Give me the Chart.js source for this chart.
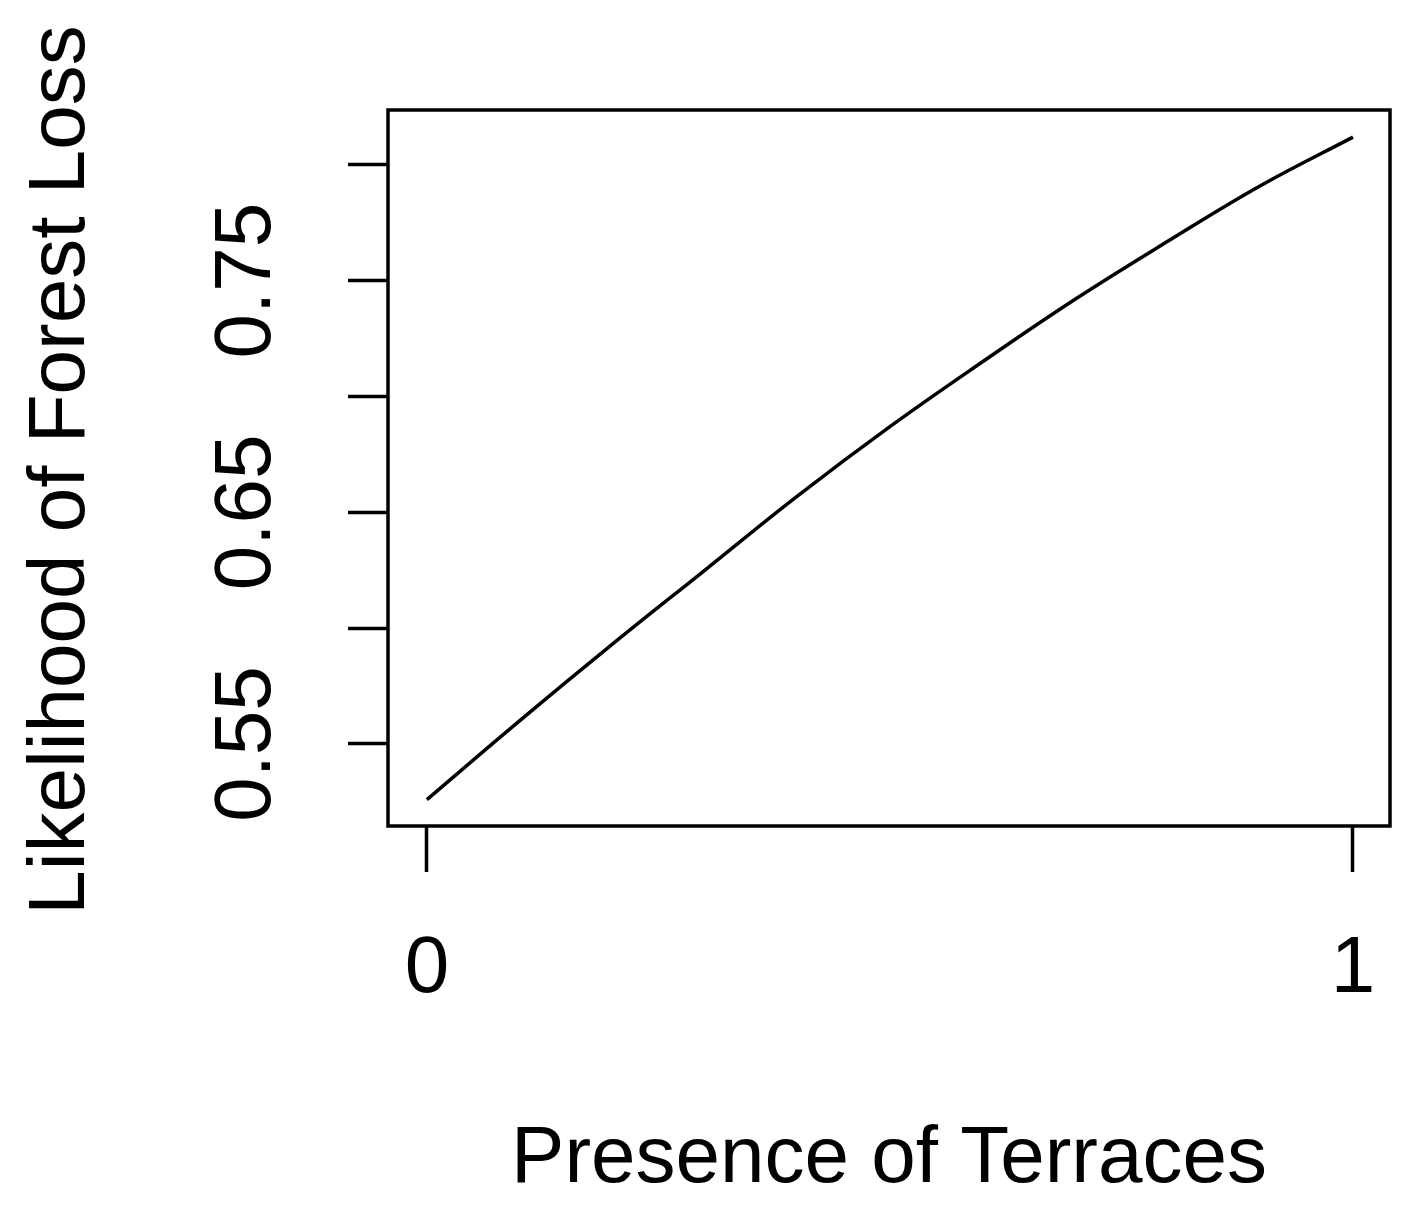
<!DOCTYPE html>
<html>
<head>
<meta charset="utf-8">
<script src="https://cdn.jsdelivr.net/npm/chart.js@4"></script>
<style>
  html, body { margin: 0; padding: 0; background: #fff; }
  #wrap { width: 1421px; height: 1229px; }
</style>
</head>
<body>
<div id="wrap"><canvas id="plot"></canvas></div>
<script>
// data
var terraces = [0, 0.1, 0.2, 0.3, 0.4, 0.5, 0.6, 0.7, 0.8, 0.9, 1];
var likelihood = [0.526, 0.560, 0.593, 0.625, 0.657, 0.687, 0.715, 0.742, 0.767, 0.791, 0.812];
var yTicks = [0.55, 0.60, 0.65, 0.70, 0.75, 0.80];
var yLabels = ['0.55', '', '0.65', '', '0.75', ''];
var xTicks = [0, 1];
var xLabels = ['0', '1'];

var FONT = '"Liberation Sans", Arial, sans-serif';

// R style box, rotated y labels and axis titles
const rStyle = {
  id: 'rStyle',
  afterDraw(chart) {
    const c = chart.ctx, a = chart.chartArea;
    const xs = chart.scales.x, ys = chart.scales.y;
    c.save();
    c.strokeStyle = '#000';
    c.lineWidth = 3.5;
    c.strokeRect(a.left, a.top, a.right - a.left, a.bottom - a.top);
    c.fillStyle = '#000';
    c.font = '80px ' + FONT;
    c.textAlign = 'center';
    c.textBaseline = 'middle';
    xTicks.forEach(function (v, i) {
      c.fillText(xLabels[i], xs.getPixelForValue(v), 970);
    });
    yTicks.forEach(function (v, i) {
      if (!yLabels[i]) return;
      c.save();
      c.translate(248, ys.getPixelForValue(v));
      c.rotate(-Math.PI / 2);
      c.fillText(yLabels[i], 0, 0);
      c.restore();
    });
    c.fillText('Presence of Terraces', 889, 1160);
    c.save();
    c.translate(62, 470);
    c.rotate(-Math.PI / 2);
    c.fillText('Likelihood of Forest Loss', 0, 0);
    c.restore();
    c.restore();
  }
};

const ctx = document.getElementById('plot').getContext('2d');
var myChart = new Chart(ctx, {
  type: 'line',
  data: {
    datasets: [{
      data: terraces.map(function (x, i) { return { x: x, y: likelihood[i] }; }),
      borderColor: '#000',
      borderWidth: 3.5,
      pointRadius: 0,
      tension: 0.4,
      fill: false
    }]
  },
  options: {
    animation: false,
    responsive: true,
    maintainAspectRatio: false,
    layout: { padding: { left: 0, right: 31, top: 110, bottom: 0 } },
    plugins: { legend: { display: false }, tooltip: { enabled: false } },
    scales: {
      x: {
        type: 'linear',
        min: -0.042,
        max: 1.04,
        afterBuildTicks: function (s) { s.ticks = xTicks.map(function (v) { return { value: v }; }); },
        afterFit: function (s) { s.height = 403; },
        ticks: { display: false },
        border: { display: false },
        grid: { drawOnChartArea: false, tickLength: 46, tickWidth: 3.5, tickColor: '#000' }
      },
      y: {
        type: 'linear',
        min: 0.5146,
        max: 0.8237,
        afterBuildTicks: function (s) { s.ticks = yTicks.map(function (v) { return { value: v }; }); },
        afterFit: function (s) { s.width = 388; },
        ticks: { display: false },
        border: { display: false },
        grid: { drawOnChartArea: false, tickLength: 40, tickWidth: 3.5, tickColor: '#000' }
      }
    }
  },
  plugins: [rStyle]
});
</script>
</body>
</html>
